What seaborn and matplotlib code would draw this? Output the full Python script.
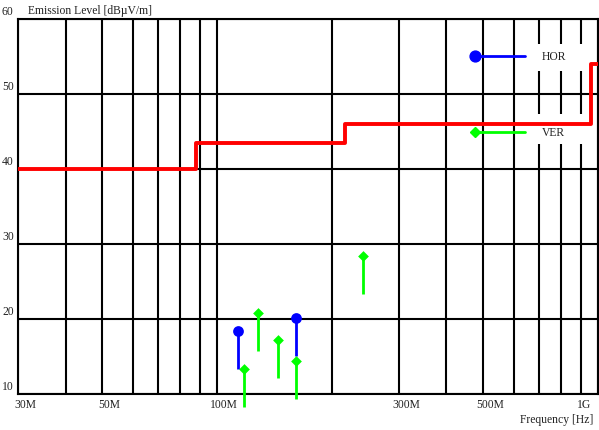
import numpy as np
import pandas as pd
import matplotlib
matplotlib.use("Agg")
import matplotlib.pyplot as plt
from matplotlib.transforms import ScaledTranslation
from matplotlib.patches import Rectangle
import seaborn as sns

# Radiated emission limit (steps, MHz / dBuV/m)
limit_freq_mhz = [30, 88, 216, 960, 1000]
limit_level = [40.0, 43.5, 46.0, 54.0, 54.0]

# Horizontal polarisation peaks
hor_freq_mhz = [113.4, 161.1]
hor_level = [18.4, 20.1]

# Vertical polarisation peaks
ver_freq_mhz = [117.3, 127.7, 144.5, 161.1, 241.2]
ver_level = [13.3, 20.8, 17.2, 14.4, 28.4]

# Axis ticks
grid_freq_mhz = [30, 40, 50, 60, 70, 80, 90, 100, 200, 300, 400, 500, 600, 700, 800, 900, 1000]
x_labels = {30: "30M", 50: "50M", 100: "100M", 300: "300M", 500: "500M", 1000: "1G"}
y_ticks = [10, 20, 30, 40, 50, 60]

STEM_DB = 5.0
BLUE = "#0000ff"
GREEN = "#00ff00"
RED = "#ff0000"

sns.set_style("white")
plt.rcParams["font.family"] = ["Liberation Serif", "DejaVu Serif"]
plt.rcParams["font.size"] = 8.4

W, H = 599, 431
fig = plt.figure(figsize=(W / 100, H / 100), dpi=100)
L, R, T, B = 18, 598, 20, 395
ax = fig.add_axes([L / W, 1 - B / H, (R - L) / W, (B - T) / H])

ax.set_xscale("log")
ax.set_xlim(30e6, 1e9)
ax.set_ylim(10, 60)

# Grid
ax.set_xticks([f * 1e6 for f in grid_freq_mhz])
ax.set_xticklabels([x_labels.get(f, "") for f in grid_freq_mhz])
ax.xaxis.set_minor_locator(matplotlib.ticker.NullLocator())
ax.set_yticks(y_ticks)
ax.set_yticklabels([str(v) for v in y_ticks])
ax.grid(True, color="black", lw=1.5, zorder=0)
ax.set_axisbelow(True)
for sp in ax.spines.values():
    sp.set_color("black")
    sp.set_linewidth(1.5)
ax.tick_params(length=0, pad=0, colors="#222222", labelsize=8.4)

# Tick label placement
dpi = fig.dpi
for f, lab in zip(grid_freq_mhz, ax.get_xticklabels()):
    dx = -14 if f == 1000 else 7
    lab.set_transform(lab.get_transform() + ScaledTranslation(dx / dpi, -4 / dpi, fig.dpi_scale_trans))
for lab in ax.get_yticklabels():
    lab.set_horizontalalignment("left")
    lab.set_transform(lab.get_transform() + ScaledTranslation(-16 / dpi, 9 / dpi, fig.dpi_scale_trans))

ax.annotate("Emission Level [dBµV/m]", xy=(0, 1), xycoords="axes fraction",
            xytext=(10, 9), textcoords="offset pixels", ha="left", va="center",
            fontsize=8.4, color="#222222", annotation_clip=False)
ax.annotate("Frequency [Hz]", xy=(1, 0), xycoords="axes fraction",
            xytext=(-5, -25), textcoords="offset pixels", ha="right", va="center",
            fontsize=8.4, color="#222222", annotation_clip=False)

# Limit line
lim_df = pd.DataFrame({"freq": np.array(limit_freq_mhz) * 1e6, "level": limit_level})
sns.lineplot(data=lim_df, x="freq", y="level", drawstyle="steps-post", color=RED,
             lw=2.8, estimator=None, ax=ax, zorder=4)

# Peak markers with tails
hor_f = np.array(hor_freq_mhz) * 1e6
ver_f = np.array(ver_freq_mhz) * 1e6
ax.vlines(hor_f, np.array(hor_level) - STEM_DB, hor_level, color=BLUE, lw=2, zorder=5, clip_on=False)
ax.vlines(ver_f, np.array(ver_level) - STEM_DB, ver_level, color=GREEN, lw=2, zorder=5, clip_on=False)
sns.scatterplot(x=hor_f, y=hor_level, marker="o", s=60, color=BLUE, edgecolor=BLUE,
                linewidth=0, ax=ax, zorder=6, clip_on=False)
sns.scatterplot(x=ver_f, y=ver_level, marker="D", s=30, color=GREEN, edgecolor=GREEN,
                linewidth=0, ax=ax, zorder=6, clip_on=False)

# Legend
ax.add_patch(Rectangle((0.883, 0.861), 0.103, 0.072, transform=ax.transAxes,
                       facecolor="white", edgecolor="none", zorder=2))
ax.add_patch(Rectangle((0.883, 0.667), 0.103, 0.080, transform=ax.transAxes,
                       facecolor="white", edgecolor="none", zorder=2))
ax.plot([0.788, 0.874], [0.901, 0.901], color=BLUE, lw=2, transform=ax.transAxes, zorder=5)
ax.plot([0.788], [0.901], marker="o", ms=7.8, color=BLUE, transform=ax.transAxes, zorder=6)
ax.plot([0.788, 0.874], [0.699, 0.699], color=GREEN, lw=2, transform=ax.transAxes, zorder=5)
ax.plot([0.788], [0.699], marker="D", ms=5.4, color=GREEN, transform=ax.transAxes, zorder=6)
ax.text(0.924, 0.901, "HOR", transform=ax.transAxes, ha="center", va="center",
        fontsize=8.4, color="#222222", zorder=7)
ax.text(0.924, 0.699, "VER", transform=ax.transAxes, ha="center", va="center",
        fontsize=8.4, color="#222222", zorder=7)

ax.set_xlabel("")
ax.set_ylabel("")
if ax.get_legend():
    ax.get_legend().remove()

fig.savefig("out.png", dpi=100)
